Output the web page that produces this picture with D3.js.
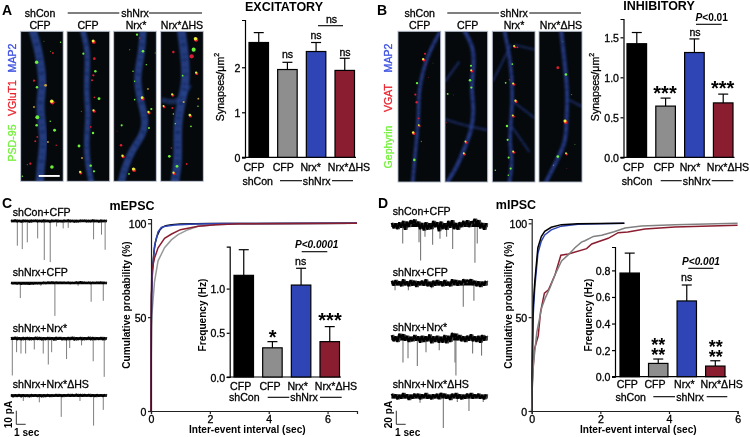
<!DOCTYPE html>
<html><head><meta charset="utf-8">
<script src="https://cdnjs.cloudflare.com/ajax/libs/d3/7.8.5/d3.min.js"></script>
<style>
html,body{margin:0;padding:0;background:#fff}
svg{display:block;filter:blur(.3px)}
text{font-family:"Liberation Sans",Arial,sans-serif;fill:#000;dominant-baseline:central}
.t{font-size:10.6px;stroke:#000;stroke-width:.3px}
.b{font-size:10.1px;font-weight:700}
.h{font-size:12.5px;font-weight:700}
.L{font-size:14px;font-weight:700}
.star{font-size:20px;font-weight:700;stroke:none}
</style></head><body>
<svg id="c" width="750" height="437" viewBox="0 0 750 437"></svg>
<script>
// ---------- data ----------
const barCategories = ["shCon CFP","shNrx CFP","shNrx Nrx*","shNrx Nrx*ΔHS"];
const barColors = ["#000000","#8e8e8e","#2f45b5","#8a1e30"];
const excMean = [2.55,1.95,2.35,1.93];
const excErr  = [2.77,2.11,2.55,2.20];
const inhMean = [1.42,0.64,1.31,0.68];
const inhErr  = [1.56,0.74,1.48,0.79];
const mepscMean = [1.15,0.33,1.04,0.40];
const mepscErr  = [1.44,0.40,1.23,0.57];
const mipscMean = [0.78,0.10,0.57,0.08];
const mipscErr  = [0.93,0.133,0.69,0.12];
const excTicks = [0,1,2], inhTicks = [0,0.5,1,1.5], mepscTicks = [0,0.5,1], mipscTicks = [0,0.2,0.4,0.6,0.8];

// cumulative curves [sec, %]
const cE_gray  = [[0,0],[0.005,25],[0.03,51],[0.12,69],[0.24,80],[0.46,87],[0.7,91.3],[0.92,94],[1.26,96.6],[1.6,98.4],[2.2,99.3],[3,99.8],[7,100]];
const cE_black = [[0,0],[0.005,40],[0.02,62],[0.05,75],[0.1,85],[0.15,90],[0.2,93],[0.3,96.5],[0.4,98],[0.5,98.7],[0.7,99.3],[1,99.6],[2,99.9],[7,100]];
const cE_blue  = [[0,0],[0.005,40],[0.02,62],[0.05,74],[0.12,88],[0.24,95.5],[0.35,97.8],[0.5,98.5],[0.8,99.1],[1.5,99.6],[2.5,99.9],[7,100]];
const cE_red   = [[0,0],[0.005,40],[0.01,60],[0.03,75],[0.12,81.5],[0.24,87],[0.46,92],[0.7,94.3],[1,96.6],[1.6,98.4],[2.2,99.3],[2.6,99.5],[3,99.8],[7,100]];
const cI_gray  = [[0,0],[0.02,15],[0.05,25],[0.15,42],[0.29,55],[0.39,60],[0.53,65.5],[0.68,72.6],[0.87,80],[1.07,83.3],[1.26,87],[1.45,90],[1.55,90.7],[1.8,93],[2.04,93.6],[2.4,95.5],[2.72,97.5],[3.2,98.6],[4.17,99.3],[6,100]];
const cI_blue  = [[0,0],[0.02,25],[0.04,50],[0.09,66],[0.18,84],[0.28,90.5],[0.38,93.8],[0.57,96.5],[0.86,98.5],[1.35,99.5],[2,99.8],[2.7,100]];
const cI_black = [[0,0],[0.02,30],[0.04,55],[0.09,69],[0.18,87],[0.28,93],[0.38,95.7],[0.57,97.9],[0.86,99.3],[1.35,99.8],[2,99.95],[2.7,100]];
const cI_red   = [[0,0],[0.02,15],[0.05,25],[0.08,33],[0.19,40],[0.26,53],[0.37,62.8],[0.49,64.6],[0.68,72.6],[0.85,83],[1.07,83.7],[1.6,86.5],[1.75,89],[2.23,92],[2.52,95],[2.8,95.4],[3.3,97],[4.17,98],[6,99]];

// miniature events [sec, pA]
const ev1 = [[0.68,18],[1.21,20.5],[1.75,15.6],[2.86,12.7],[3.57,28.5],[4.21,30],[4.89,4],[5.6,5.4],[6.14,5],[8.86,13.4],[9.71,10],[10.1,21]];
const ev2 = [[1.0,11],[3.2,2],[4.71,24],[7.2,2],[8.6,13.7],[9.9,13]];
const ev3 = [[0.14,27],[0.6,10],[1.07,11],[1.57,11],[2.5,8],[3.46,11],[4,19],[4.36,10],[5.96,15],[6.3,7],[7.57,5],[8.82,16.6],[10,28]];
const ev4 = [[1.32,4],[3.04,5],[5.39,15.6],[7.4,4],[8.86,22],[9.9,10.5]];
const ev5 = [[1.18,27],[2.93,25],[3.1,52],[3.57,17],[4.39,29],[5.18,20],[5.89,17],[6.54,35],[8.93,55],[9.18,27]];
const ev6 = [[0.36,10],[1.79,10],[4.29,7],[7.68,34],[8.82,25]];
const ev7 = [[1.21,35],[1.75,29],[2.75,40],[3.68,20],[5.1,17],[6.79,35],[6.89,54],[8.68,22],[9.64,25]];
const ev8 = [[3.04,9],[5.54,46],[7.04,8],[8.29,21],[9.82,8]];

// baseline noise (pA), sampled left to right
const noiseE1=[.7,-.6,.5,-.8,.6,-.4,.8,-.7,.4,-.5,.9,-.6,.3,-.7,.6,-.5,.7,-.8,.5,-.4,.8,-.6,.4,-.7,.6,-.3,.7,-.6,.5,-.8,.6,-.5,.9,-.4,.6,-.7,.3,-.6,.7,-.5,.6,-.8,.5,-.4,.8,-.6,.5,-.7];
const noiseE2=[.4,-.3,.6,-.2,.7,-.1,.9,.1,.8,.2,.9,-.1,.7,-.2,.6,-.3,.5,-.6,.4,-.7,.2,-.8,.3,-.7,.1,-.6,.3,-.5,.2,-.6,.4,-.4,.2,-.7,.1,-.9,.2,-.5,.3,-.6,.4,-.5,.3,-.6,.2,-.7,.3,-.5];
const noiseE3=[1,-.9,.8,-1.1,1,-.8,1.2,-.9,.9,-1,1.1,-.8,.9,-1.1,1,-.9,1.2,-.7,1,-1,.9,-.8,1.3,-1,.8,-.9,1.2,-.8,1.1,-1,.9,-1.1,1.3,-.7,1,-.9,1.1,-.8,.9,-1.1,1.2,-.9,1,-.8,.9,-1,1.1,-.9];
const noiseE4=[.9,-.7,1,-.6,.8,-.8,1,-.7,.9,-.5,1,-.8,.7,-.6,.9,-.7,1.1,-.6,.8,-.8,.9,-.5,.7,-.9,.6,-.8,.9,-.7,.5,-.9,.7,-.8,.6,-1,.8,-.9,.7,-.8,.5,-.9,.8,-.7,.9,-.8,.6,-.7,.8,-.9];
const noiseI1=[3,-3,5,-2,6,-4,4,-6,7,-5,3,-7,-2,-8,2,-5,6,-3,8,-4,7,-2,6,-6,3,-4,9,-5,6,-2,7,-6,4,-7,6,-3,7,-4,3,-6,2,-7,3,-5,-3,-9,-2,-7,5,-3,7,-2];
const noiseI2=[1,-4,3,-5,2,-3,4,-6,2,-3,4,-5,3,-4,5,-3,2,-4,3,-6,4,-2,5,-4,3,-5,2,-3,4,-5,3,-2,4,-6,1,-5,3,-4,2,-6,-1,-5,-3,-6,2,-4,4,-3,5,-2,3,-4];
const noiseI3=[2,-5,4,-3,5,-7,-1,-6,3,-4,5,-2,4,-5,3,-3,6,-4,5,-3,4,-6,7,-3,5,-4,6,-2,6,-5,7,-4,5,-8,-2,-7,2,-5,4,-3,5,-4,3,-6,4,-3,5,-4,6,-5,3,-4];
const noiseI4=[3,-4,2,-3,4,-2,3,-5,2,-3,5,-2,3,-4,2,-4,4,-3,2,-5,3,-2,4,-3,2,-4,4,-5,1,-4,3,-2,5,-4,2,-5,3,-3,4,-2,3,-4,2,-5,3,-3,2,-4,3,-2,4,-3];

// fluorescence puncta: panel-relative [x, y, kind, size]; x over 0-128, y over 0-450
const a1Puncta=[[48,93,"g",2.4],[40,148,"r",1.5],[49,168,"g",1.7],[75,162,"o",1.9],[94,211,"y",3],[50,258,"g",2.7],[48,282,"g",1.8],[102,297,"g",2],[40,227,"o",1.3],[44,330,"r",1.4],[50,317,"r",1.2],[29,397,"r",1.6],[94,407,"g",2.5],[97,65,"r",1.3],[89,270,"g",1],[120,33,"g",1],[82,332,"o",1.3],[5,435,"g",1],[107,342,"r",1],[90,60,"g",.9],[20,400,"g",.8],[70,30,"g",.7]];
const a2Puncta=[[79,30,"y",2.6],[49,67,"g",1.5],[82,82,"r",1.8],[85,120,"g",1.7],[79,132,"r",1.6],[75,147,"r",1.4],[96,202,"g",2],[82,198,"r",1.2],[80,238,"y",2],[71,287,"r",1.2],[78,305,"g",1.7],[36,344,"g",2],[45,380,"o",1.3],[71,403,"g",1.7],[40,423,"y",2],[81,420,"g",1.5],[43,240,"g",.8]];
const a3Puncta=[[70,10,"g",1.6],[88,60,"g",1.8],[58,120,"g",1],[63,150,"g",1],[103,173,"o",1.2],[86,200,"y",2.4],[63,205,"g",1.1],[105,243,"y",2],[113,233,"g",1.5],[106,290,"g",1.4],[24,282,"g",1.5],[22,342,"r",1.8],[27,374,"y",2.1],[60,414,"y",2.8],[46,428,"g",1.2],[78,20,"r",1.1],[125,65,"g",.9],[98,100,"g",1],[48,55,"g",.9],[10,300,"r",.7]];
const a4Puncta=[[105,23,"y",3],[99,55,"g",2.8],[93,75,"r",3],[38,62,"r",1.7],[107,125,"y",2],[66,133,"g",1.2],[35,190,"y",1.9],[69,212,"o",1.4],[113,202,"o",1.3],[9,225,"y",1.7],[35,230,"r",1.4],[88,252,"y",2.2],[91,285,"g",1.2],[44,277,"g",1],[26,375,"g",1.9],[49,405,"g",1.9],[39,425,"y",2],[78,398,"r",1.3],[112,225,"g",1],[32,350,"r",1],[38,248,"g",1]];
const b1Puncta=[[81,67,"r",1.5],[76,84,"y",2],[84,100,"r",.9],[57,155,"g",1.6],[52,189,"r",1.5],[56,212,"r",1.7],[62,260,"r",1.3],[63,281,"y",1.6],[46,303,"y",2.1],[70,329,"g",.9],[49,384,"g",1.8],[91,138,"r",.7],[105,95,"g",.6]];
const b2Puncta=[[78,103,"g",1.5],[79,117,"y",1.7],[75,146,"g",1.8],[79,168,"g",1.6],[8,187,"g",1.3],[62,330,"y",1.7],[57,365,"y",1.7],[5,273,"r",.9],[25,190,"g",.6]];
const b3Puncta=[[66,45,"y",1.8],[75,48,"r",1.3],[60,98,"g",1.2],[40,154,"g",1.2],[63,157,"y",1.8],[70,208,"y",2],[62,252,"y",1.7],[44,283,"g",1.7],[46,324,"g",1.5],[63,360,"y",1.7],[49,377,"g",1.5],[55,410,"g",1.5],[48,430,"g",1],[9,415,"g",1],[51,145,"r",1],[0,380,"g",1]];
const b4Puncta=[[56,109,"r",2],[80,129,"g",1.8],[78,269,"y",2.6],[81,365,"y",1.6],[56,374,"g",1.9],[97,189,"g",.9],[43,400,"g",.9],[83,410,"r",.7],[107,338,"g",.7],[71,30,"g",.6]];

// dendrites: panel-relative paths [x, y]
const a1Den=[[[32,-20],[37,0],[52,50],[62,110],[67,160],[57,220],[64,280],[70,330],[62,390],[57,450],[55,480]]];
const a2Den=[[[44,-20],[48,0],[63,60],[60,120],[58,190],[65,250],[58,320],[60,390],[73,450],[76,480]]];
const a3Den=[[[88,-20],[88,0],[85,60],[68,140],[78,200],[98,270],[88,310],[53,360],[33,410],[23,450],[18,480]]];
const a4Den=[[[60,-20],[62,0],[72,70],[77,150],[62,210],[50,280],[52,350],[50,410],[42,450],[40,480]],[[2,205],[52,220],[87,160]]];
const b1Den=[[[135,-15],[124,5],[94,60],[74,120],[62,180],[62,250],[56,320],[49,390],[44,450],[42,480]]];
const b2Den=[[[52,-20],[58,0],[88,50],[85,120],[78,170],[88,240],[78,300],[58,350],[38,400],[8,450],[-5,470]],[[0,262],[53,280],[128,295]],[[0,150],[43,90]]];
const b3Den=[[[34,-20],[36,0],[56,90],[61,190],[56,270],[51,330],[61,390],[51,450],[49,480]],[[1,150],[41,70],[56,40]],[[66,40],[128,55]],[[56,205],[128,260]],[[56,280],[111,360]]];
const b4Den=[[[64,-20],[66,0],[76,90],[86,190],[81,270],[81,330],[46,400],[21,450],[10,470]],[[90,205],[128,225]]];
// ---------- end data ----------

const svg=d3.select("#c");
const defs=svg.append("defs");
[["bl1",1.2],["bl2",.5],["bl0",.2]].forEach(([id,s])=>defs.append("filter").attr("id",id)
  .attr("x","-30%").attr("y","-30%").attr("width","160%").attr("height","160%")
  .append("feGaussianBlur").attr("stdDeviation",s));

function txt(x,y,s,cls,o={}){
  const t=svg.append("text").attr("x",x).attr("y",y).attr("class",cls)
    .attr("text-anchor",o.anchor||"middle").text(s);
  if(o.fill)t.style("fill",o.fill).style("stroke",o.fill);
  if(o.rot)t.attr("transform",`rotate(-90 ${x} ${y})`);
  return t;
}
function rule(x1,x2,y){svg.append("line").attr("x1",x1).attr("x2",x2).attr("y1",y).attr("y2",y).attr("stroke","#000").attr("stroke-width",1.1);}

// micrographs
function micro(x0,y0,w,h,den,pun,dw,dcol){
  const id="cl"+Math.round(x0);
  defs.append("clipPath").attr("id",id).append("rect").attr("x",x0).attr("y",y0).attr("width",w).attr("height",h);
  const sx=d3.scaleLinear().domain([0,128]).range([x0,x0+w]);
  const sy=d3.scaleLinear().domain([0,450]).range([y0,y0+h]);
  const g=svg.append("g").attr("clip-path",`url(#${id})`);
  g.append("rect").attr("x",x0).attr("y",y0).attr("width",w).attr("height",h).attr("fill","#05090c");
  const ln=d3.line().x(d=>sx(d[0])).y(d=>sy(d[1])).curve(d3.curveBasis);
  const dg=g.append("g").attr("filter","url(#bl1)");
  dg.selectAll("path.m").data(den).join("path").attr("class","m")
    .attr("d",ln).attr("fill","none").attr("stroke",dcol)
    .attr("stroke-width",(d,i)=>i?dw*.6:dw).attr("stroke-opacity",(d,i)=>i?.55:.82);
  dg.selectAll("path.n").data(den).join("path").attr("class","n")
    .attr("d",ln).attr("fill","none").attr("stroke","#0e1a48")
    .attr("stroke-width",(d,i)=>i?dw*.3:dw*.55).attr("stroke-dasharray","1.5 3.4 2.4 6 1 4.6 3 7.5").attr("stroke-opacity",.5);
  const dots=g.append("g").attr("filter","url(#bl2)");
  pun.forEach(([x,y,k,r])=>{
    const R=r*.72;
    if(k==="y"){
      dots.append("circle").attr("cx",sx(x)+.5).attr("cy",sy(y)+.7).attr("r",R).attr("fill","#e8152a");
      dots.append("circle").attr("cx",sx(x)-.2).attr("cy",sy(y)-.3).attr("r",R*.8).attr("fill","#e6f23a");
    }else{
      const c={g:"#6cf03a",r:"#d81c30",o:"#c9a030"}[k];
      dots.append("circle").attr("cx",sx(x)).attr("cy",sy(y)).attr("r",R).attr("fill",c).attr("opacity",r<1?.55:1);
    }
  });
  svg.append("rect").attr("x",x0).attr("y",y0).attr("width",w).attr("height",h)
    .attr("fill","none").attr("stroke","#aeb6c6").attr("stroke-width",.9);
}
const aBlue="#2a4796", bBlue="#2a3f96";
micro(20.7,31.3,42.5,150,a1Den,a1Puncta,8,aBlue);
micro(67,31.3,42.7,150,a2Den,a2Puncta,5.5,aBlue);
micro(113.7,31.3,42.6,150,a3Den,a3Puncta,7,aBlue);
micro(160.7,31.3,42.6,150,a4Den,a4Puncta,8.5,aBlue);
micro(398,31.3,42.7,150.7,b1Den,b1Puncta,3.5,bBlue);
micro(445,31.3,42.7,150.7,b2Den,b2Puncta,4,bBlue);
micro(492.3,31.3,42.7,150.7,b3Den,b3Puncta,3.6,bBlue);
micro(539,31.3,43,150.7,b4Den,b4Puncta,4,bBlue);
svg.append("rect").attr("x",38.7).attr("y",175).attr("width",21).attr("height",1.9).attr("fill","#fff");

// bar charts
function bars(o){
  const xb=d3.scaleBand().domain(barCategories).range([o.b0,o.b1]).paddingInner(.32).paddingOuter(0);
  const y=d3.scaleLinear().domain([0,o.top]).range([o.y0,o.y1]);
  const g=svg.append("g");
  const ax=g.append("g").attr("transform",`translate(${o.ax},0)`)
    .call(d3.axisLeft(y).tickValues(o.ticks).tickSize(3).tickFormat(d3.format(o.fmt)));
  ax.selectAll("path,line").attr("stroke","#000").attr("stroke-width",1.2);
  ax.selectAll("text").attr("class","t").attr("dy",0).attr("x",-4.5);
  g.append("line").attr("x1",o.ax-3).attr("x2",o.b1+1.5).attr("y1",o.y0).attr("y2",o.y0).attr("stroke","#000").attr("stroke-width",1.2);
  barCategories.forEach((c,i)=>{
    const cx=xb(c)+xb.bandwidth()/2;
    g.append("line").attr("x1",cx).attr("x2",cx).attr("y1",y(o.mean[i])).attr("y2",y(o.err[i])).attr("stroke","#000").attr("stroke-width",1.2);
    g.append("line").attr("x1",cx-5).attr("x2",cx+5).attr("y1",y(o.err[i])).attr("y2",y(o.err[i])).attr("stroke","#000").attr("stroke-width",1.2);
    g.append("rect").attr("x",xb(c)).attr("y",y(o.mean[i])).attr("width",xb.bandwidth())
      .attr("height",y(0)-y(o.mean[i])).attr("fill",barColors[i]).attr("stroke","#000").attr("stroke-width",1.2);
  });
}
bars({ax:245,b0:249,b1:354.5,y0:157.3,y1:20,top:3.05,ticks:excTicks,fmt:"d",mean:excMean,err:excErr});
bars({ax:623.5,b0:627,b1:733,y0:157.3,y1:19,top:1.729,ticks:inhTicks,fmt:".1f",mean:inhMean,err:inhErr});
bars({ax:229.7,b0:234,b1:339.5,y0:377,y1:246.7,top:1.474,ticks:mepscTicks,fmt:".1f",mean:mepscMean,err:mepscErr});
bars({ax:615,b0:620,b1:725,y0:376.7,y1:247,top:.976,ticks:mipscTicks,fmt:".1f",mean:mipscMean,err:mipscErr});

// cumulative plots
function cdf(o){
  const x=d3.scaleLinear().domain([0,o.xmax]).range([o.x0,o.x1]);
  const y=d3.scaleLinear().domain([0,102.3]).range([411,219]);
  const g=svg.append("g");
  const line=d3.line().x(d=>x(d[0])).y(d=>y(d[1]));
  o.series.forEach(([d,c])=>g.append("path").attr("d",line(d)).attr("fill","none").attr("stroke",c).attr("stroke-width",1.5));
  const ax=g.append("g").attr("transform",`translate(${o.x0},0)`).call(d3.axisLeft(y).tickValues([0,50,100]).tickFormat(d3.format("d")).tickSize(3));
  const bx=g.append("g").attr("transform","translate(0,411)").call(d3.axisBottom(x).tickValues([0,2,4,6]).tickFormat(d3.format("d")).tickSize(3));
  [ax,bx].forEach(a=>{a.selectAll("path,line").attr("stroke","#222").attr("stroke-width",1.2);a.selectAll("text").attr("class","t");});
  ax.selectAll("text").attr("dy",0).attr("x",-4.5);
  bx.selectAll("text").attr("dy",0).attr("y",7.5);
}
cdf({x0:151,x1:357,xmax:7,series:[[cE_gray,"#999"],[cE_black,"#000"],[cE_blue,"#2f45b5"],[cE_red,"#8a1e30"]]});
cdf({x0:531.7,x1:737.6,xmax:6,series:[[cI_blue,"#2f45b5"],[cI_black,"#000"],[cI_red,"#8a1e30"],[cI_gray,"#808080"]]});

// electrophysiology traces
function trace(o){
  const x=d3.scaleLinear().domain([0,10.3]).range([o.x0,o.x0+96]);
  const y=d3.scaleLinear().domain([0,o.pa]).range([o.base,o.base+13.7]);
  const g=svg.append("g").attr("filter","url(#bl0)");
  g.selectAll("line").data(o.ev).join("line")
    .attr("x1",d=>x(d[0])).attr("x2",d=>x(d[0])).attr("y1",o.base).attr("y2",d=>y(d[1]))
    .attr("stroke","#777").attr("stroke-width",o.pa>10?1.1:.95);
  const nx=d3.scaleLinear().domain([0,o.noise.length-1]).range([o.x0,o.x0+96]);
  const wave=d3.line().x((d,i)=>nx(i)).y(d=>y(d));
  const wide=o.pa>10;
  g.append("line").attr("x1",o.x0).attr("x2",o.x0+96).attr("y1",y(0)).attr("y2",y(0)).attr("stroke","#000").attr("stroke-width",wide?4:2.4);
  g.append("path").attr("d",wave(o.noise)).attr("fill","none").attr("stroke",wide?"#444":"#222").attr("stroke-width",wide?1.4:1.3).attr("stroke-linejoin","bevel");
  g.append("path").attr("d",wave(o.noise.slice(1))).attr("fill","none").attr("stroke","#000").attr("stroke-width",wide?2.2:1.6).attr("stroke-linejoin","bevel");
}
[[221,ev1,noiseE1],[283,ev2,noiseE2],[338.5,ev3,noiseE3],[395.5,ev4,noiseE4]].forEach(([base,ev,noise])=>trace({x0:11,base,ev,noise,pa:10}));
[[225,ev5,noiseI1],[283.5,ev6,noiseI2],[338.5,ev7,noiseI3],[396.5,ev8,noiseI4]].forEach(([base,ev,noise])=>trace({x0:391.7,base,ev,noise,pa:20}));
[[16.3,25.7,"10 pA",8,14],[396.3,405.7,"20 pA",388.3,395]].forEach(([a,b,s,tx,lx])=>{
  svg.append("path").attr("d",`M${a} 410.7V424.3H${b}`).attr("fill","none").attr("stroke","#333").attr("stroke-width",1);
  txt(tx,414.5,s,"b",{rot:1});
  txt(lx,432,"1 sec","b",{anchor:"start"});
});

// labels
txt(2,10,"A","L",{anchor:"start"});txt(377,10,"B","L",{anchor:"start"});
txt(2,203,"C","L",{anchor:"start"});txt(378,203,"D","L",{anchor:"start"});
txt(40,13,"shCon","t");txt(40,25,"CFP","t");txt(88,25,"CFP","t");txt(136,25,"Nrx*","t");txt(182,25,"Nrx*ΔHS","t");
txt(135,13,"shNrx","t");rule(67.7,119.3,13);rule(149,202,13);
txt(419.7,13,"shCon","t");txt(419.7,25,"CFP","t");txt(467.7,25,"CFP","t");txt(514,25,"Nrx*","t");txt(561,25,"Nrx*ΔHS","t");
txt(514,13,"shNrx","t");rule(447.3,499,13);rule(529.3,581,13);
const cBlue="#3a4ee0",cRed="#e8222c",cGreen="#74f03c";
txt(11.7,58,"MAP2","t",{fill:cBlue,rot:1});txt(11.7,98,"VGluT1","t",{fill:cRed,rot:1});txt(11.7,143,"PSD-95","t",{fill:cGreen,rot:1});
txt(388.3,58,"MAP2","t",{fill:cBlue,rot:1});txt(388.3,98,"VGAT","t",{fill:cRed,rot:1});txt(388.3,147,"Gephyrin","t",{fill:cGreen,rot:1});
txt(284,7,"EXCITATORY","h");txt(659,6,"INHIBITORY","h");
function synapses(x){const t=txt(x,87,"Synapses/μm","t",{rot:1});t.append("tspan").attr("dy",-4).attr("font-size",7).text("2");}
synapses(220);synapses(595);
function cats(y,xs,sy,sc,sn,l1,l2){
  barCategories.forEach((c,i)=>txt(xs[i],y,c.split(" ")[1],"t"));
  txt(sc,sy,"shCon","t");txt(sn,sy,"shNrx","t");rule(l1[0],l1[1],sy);rule(l2[0],l2[1],sy);
}
cats(167,[254,283.3,310.7,349],180.7,257.7,316.7,[280,302],[332,353]);
cats(167,[633.7,664,690,728],180.7,637,696.7,[660.7,681.7],[711.7,733.3]);
cats(385.7,[240.7,270,297.7,336],397.3,244.3,304,[267.7,289.3],[320,341.7]);
cats(384.3,[627.3,655,684.3,721.7],396.7,630.7,690,[653.3,675],[706.7,727.3]);
// significance
[[287.5,54],[316,35],[345,52],[331.5,19],[695,31.7],[300.7,260.7],[686.7,277.3]].forEach(([x,y])=>txt(x,y,"ns","t"));
rule(318,343,25.7);rule(696,721.7,24.3);rule(301.7,327.3,251.7);rule(688.3,713.3,268.3);
function pval(x,y,s){const t=txt(x,y,"","b");t.append("tspan").attr("font-style","italic").text("P");t.append("tspan").text(s);return t;}
pval(711.7,17.3,"<0.01");
pval(316.7,244,"<0.0001").style("font-style","italic");
pval(701,260.7,"<0.001").style("font-style","italic");
[[665,92.5,"***"],[722.7,87.5,"***"],[272.7,337,"*"],[330,320,"***"]].forEach(([x,y,s])=>txt(x,y,s,"star"));
[[658.3,344.5],[715.7,346.5]].forEach(([x,y])=>{
  const t=txt(x,y,"","star").style("font-size","18px");
  t.append("tspan").attr("x",x).text("**");
  t.append("tspan").attr("x",x).attr("dy",10.3).text("**");
});
txt(132,205.7,"mEPSC","h");txt(516,205.2,"mIPSC","h");
[["shCon+CFP",212.3],["shNrx+CFP",271.7],["shNrx+Nrx*",327.7],["shNrx+Nrx*ΔHS",384.3]].forEach(([s,y])=>txt(12.7,y,s,"t",{anchor:"start"}));
[["shCon+CFP",210.7],["shNrx+CFP",271.7],["shNrx+Nrx*",326.7],["shNrx+Nrx*ΔHS",384.3]].forEach(([s,y])=>txt(392.7,y,s,"t",{anchor:"start"}));
txt(247.3,429.5,"Inter-event interval (sec)","b");txt(638.3,429.5,"Inter-event interval (sec)","b");
txt(126.7,305,"Cumulative probability (%)","b",{rot:1});txt(508.3,305,"Cumulative probability (%)","b",{rot:1});
txt(202.7,315,"Frequency (Hz)","b",{rot:1});txt(588.3,315,"Frequency (Hz)","b",{rot:1});
</script></body></html>
